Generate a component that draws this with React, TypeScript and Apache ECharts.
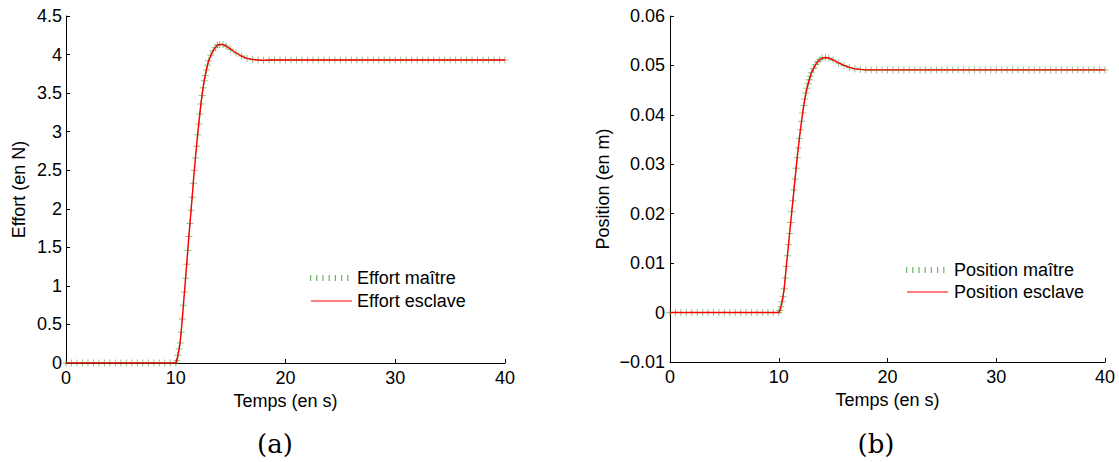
import { useEffect, useRef } from 'react';
import * as echarts from 'echarts';

// Sample times (s)
const time = [
  0, 0.5, 1, 1.5, 2, 2.5, 3, 3.5, 4, 4.5, 5, 5.5, 6, 6.5, 7, 7.5, 8, 8.5, 9, 9.5, 10,
  10.1, 10.2, 10.3, 10.4, 10.5, 10.6, 10.7, 10.8, 10.9, 11, 11.1, 11.2, 11.3, 11.4, 11.5,
  11.6, 11.7, 11.8, 11.9, 12, 12.1, 12.2, 12.3, 12.4, 12.5, 12.6, 12.7, 12.8, 12.9, 13,
  13.2, 13.4, 13.6, 13.8, 14, 14.3, 14.6, 15, 15.5, 16, 16.5, 17, 17.5, 18,
  18.5, 19, 19.5, 20, 20.5, 21, 21.5, 22, 22.5, 23, 23.5, 24, 24.5, 25, 25.5, 26, 26.5,
  27, 27.5, 28, 28.5, 29, 29.5, 30, 30.5, 31, 31.5, 32, 32.5, 33, 33.5, 34, 34.5, 35,
  35.5, 36, 36.5, 37, 37.5, 38, 38.5, 39, 39.5, 40,
];

// Effort (N)
const effortMaitre = [
  0, 0, 0, 0, 0, 0, 0, 0, 0, 0, 0, 0, 0, 0, 0, 0, 0, 0, 0, 0, 0,
  0.03, 0.1, 0.18, 0.26, 0.4, 0.57, 0.75, 0.92, 1.1, 1.28, 1.46, 1.64, 1.81, 1.98, 2.15,
  2.33, 2.5, 2.66, 2.81, 2.96, 3.1, 3.23, 3.36, 3.47, 3.57, 3.66, 3.73, 3.8, 3.86, 3.92,
  3.99, 4.05, 4.09, 4.12, 4.13, 4.13, 4.11, 4.07, 4.02, 3.98, 3.95, 3.935, 3.93, 3.925,
  3.93, 3.93, 3.93, 3.93, 3.93, 3.93, 3.93, 3.93, 3.93, 3.93, 3.93, 3.93, 3.93, 3.93, 3.93,
  3.93, 3.93, 3.93, 3.93, 3.93, 3.93, 3.93, 3.93, 3.93, 3.93, 3.93, 3.93, 3.93, 3.93, 3.93,
  3.93, 3.93, 3.93, 3.93, 3.93, 3.93, 3.93, 3.93, 3.93, 3.93, 3.93, 3.93, 3.93, 3.93,
];
const effortEsclave = [
  0, 0, 0, 0, 0, 0, 0, 0, 0, 0, 0, 0, 0, 0, 0, 0, 0, 0, 0, 0, 0,
  0.03, 0.1, 0.18, 0.27, 0.41, 0.58, 0.76, 0.93, 1.11, 1.29, 1.47, 1.65, 1.82, 1.99, 2.16,
  2.34, 2.51, 2.67, 2.82, 2.97, 3.11, 3.24, 3.37, 3.48, 3.58, 3.67, 3.74, 3.81, 3.87, 3.92,
  3.99, 4.05, 4.09, 4.12, 4.13, 4.13, 4.11, 4.07, 4.02, 3.98, 3.95, 3.935, 3.93, 3.925,
  3.93, 3.93, 3.93, 3.93, 3.93, 3.93, 3.93, 3.93, 3.93, 3.93, 3.93, 3.93, 3.93, 3.93, 3.93,
  3.93, 3.93, 3.93, 3.93, 3.93, 3.93, 3.93, 3.93, 3.93, 3.93, 3.93, 3.93, 3.93, 3.93, 3.93,
  3.93, 3.93, 3.93, 3.93, 3.93, 3.93, 3.93, 3.93, 3.93, 3.93, 3.93, 3.93, 3.93, 3.93,
];

// Position (m)
const positionMaitre = [
  0, 0, 0, 0, 0, 0, 0, 0, 0, 0, 0, 0, 0, 0, 0, 0, 0, 0, 0, 0, 0,
  0.0004, 0.0012, 0.0022, 0.0032, 0.0048, 0.007, 0.0093, 0.0115, 0.0137, 0.016, 0.0182,
  0.0204, 0.0226, 0.0248, 0.027, 0.0292, 0.0313, 0.0333, 0.0352, 0.037, 0.0387, 0.0404,
  0.0419, 0.0432, 0.0444, 0.0454, 0.0463, 0.0471, 0.0478, 0.0485,
  0.0494, 0.0502, 0.0508, 0.0512, 0.0515, 0.0516, 0.0515, 0.0511, 0.0505, 0.05, 0.0496,
  0.0493, 0.0492, 0.0491,
  0.0491, 0.0491, 0.0491, 0.0491, 0.0491, 0.0491, 0.0491, 0.0491, 0.0491, 0.0491, 0.0491,
  0.0491, 0.0491, 0.0491, 0.0491, 0.0491, 0.0491, 0.0491, 0.0491, 0.0491, 0.0491, 0.0491,
  0.0491, 0.0491, 0.0491, 0.0491, 0.0491, 0.0491, 0.0491, 0.0491, 0.0491, 0.0491, 0.0491,
  0.0491, 0.0491, 0.0491, 0.0491, 0.0491, 0.0491, 0.0491, 0.0491, 0.0491, 0.0491, 0.0491,
];
const positionEsclave = [
  0, 0, 0, 0, 0, 0, 0, 0, 0, 0, 0, 0, 0, 0, 0, 0, 0, 0, 0, 0, 0,
  0.0004, 0.0012, 0.0022, 0.0033, 0.0049, 0.0071, 0.0094, 0.0116, 0.0138, 0.0161, 0.0183,
  0.0205, 0.0227, 0.0249, 0.0271, 0.0293, 0.0314, 0.0334, 0.0353, 0.0371, 0.0388, 0.0404,
  0.0419, 0.0432, 0.0444, 0.0454, 0.0463, 0.0471, 0.0478, 0.0485,
  0.0494, 0.0502, 0.0508, 0.0512, 0.0515, 0.0516, 0.0515, 0.0511, 0.0505, 0.05, 0.0496,
  0.0493, 0.0492, 0.0491,
  0.0491, 0.0491, 0.0491, 0.0491, 0.0491, 0.0491, 0.0491, 0.0491, 0.0491, 0.0491, 0.0491,
  0.0491, 0.0491, 0.0491, 0.0491, 0.0491, 0.0491, 0.0491, 0.0491, 0.0491, 0.0491, 0.0491,
  0.0491, 0.0491, 0.0491, 0.0491, 0.0491, 0.0491, 0.0491, 0.0491, 0.0491, 0.0491, 0.0491,
  0.0491, 0.0491, 0.0491, 0.0491, 0.0491, 0.0491, 0.0491, 0.0491, 0.0491, 0.0491, 0.0491,
];

const FONT = '"Liberation Sans", Arial, Helvetica, sans-serif';
const SERIF = '"DejaVu Serif", "Liberation Serif", serif';
const FS = 18;
const PLUS = 'path://M3,0h1v7h-1z M0,3h7v1h-7z';

const zip = (xs: number[], ys: number[]) => xs.map((x, i) => [x, ys[i]]);

function axisBase() {
  return {
    axisLine: { show: true, onZero: false, lineStyle: { color: '#000', width: 1 } },
    axisTick: { show: true, inside: true, length: 4, lineStyle: { color: '#000', width: 1 } },
    axisLabel: { color: '#000', fontSize: FS, fontFamily: FONT },
    splitLine: { show: false },
    nameTextStyle: { color: '#000', fontSize: FS, fontFamily: FONT },
    nameLocation: 'middle' as const,
  };
}

function masterSeries(name: string, idx: number, data: number[][]) {
  return {
    name,
    type: 'line',
    xAxisIndex: idx,
    yAxisIndex: idx,
    data,
    symbol: PLUS,
    symbolSize: 7,
    showSymbol: true,
    itemStyle: { color: 'rgba(40,150,40,0.55)' },
    lineStyle: { color: 'rgba(40,150,40,0.6)', width: 1, type: 'dotted' },
    z: 2,
  };
}

function slaveSeries(name: string, idx: number, data: number[][]) {
  return {
    name,
    type: 'line',
    xAxisIndex: idx,
    yAxisIndex: idx,
    data,
    symbol: 'none',
    lineStyle: { color: '#ff0000', width: 1.4 },
    z: 3,
  };
}

function legendGraphic(y1: number, y2: number, t1: string, t2: string, lx: number, gx1: number, gx2: number, rx1: number, rx2: number) {
  return [
    {
      type: 'line',
      shape: { x1: gx1, y1, x2: gx2, y2: y1 },
      style: { stroke: 'rgba(40,150,40,0.7)', lineWidth: 6, lineDash: [1.2, 5] },
    },
    {
      type: 'text',
      x: lx,
      y: y1,
      style: { text: t1, font: `${FS}px ${FONT}`, fill: '#000', verticalAlign: 'middle', align: 'left' },
    },
    {
      type: 'line',
      shape: { x1: rx1, y1: y2, x2: rx2, y2 },
      style: { stroke: '#ff0000', lineWidth: 1 },
    },
    {
      type: 'text',
      x: lx,
      y: y2,
      style: { text: t2, font: `${FS}px ${FONT}`, fill: '#000', verticalAlign: 'middle', align: 'left' },
    },
  ].map((g) => ({ ...g, silent: true, z: 10 })) as any[];
}

export default function App() {
  const ref = useRef<HTMLDivElement>(null);

  useEffect(() => {
    document.body.style.margin = '0';
    if (!ref.current) return;
    const chart = echarts.init(ref.current, undefined, { renderer: 'svg' });

    const posFmt = (v: number) => {
      if (Math.abs(v) < 1e-9) return '0';
      return (v < 0 ? '\u2212' : '') + Math.abs(v).toFixed(2);
    };

    chart.setOption({
      animation: false,
      backgroundColor: '#ffffff',
      textStyle: { fontFamily: FONT },
      grid: [
        { left: 66, top: 16, width: 439, height: 347 },
        { left: 670, top: 16, width: 435, height: 346 },
      ],
      xAxis: [
        {
          ...axisBase(),
          gridIndex: 0,
          type: 'value',
          min: 0,
          max: 40,
          interval: 10,
          name: 'Temps (en s)',
          nameGap: 23,
          axisLabel: { ...axisBase().axisLabel, margin: 6 },
        },
        {
          ...axisBase(),
          gridIndex: 1,
          type: 'value',
          min: 0,
          max: 40,
          interval: 10,
          name: 'Temps (en s)',
          nameGap: 24,
          axisLabel: { ...axisBase().axisLabel, margin: 6 },
        },
      ],
      yAxis: [
        {
          ...axisBase(),
          gridIndex: 0,
          type: 'value',
          min: 0,
          max: 4.5,
          interval: 0.5,
          name: 'Effort (en N)',
          nameGap: 38,
          axisLabel: { ...axisBase().axisLabel, margin: 4 },
        },
        {
          ...axisBase(),
          gridIndex: 1,
          type: 'value',
          min: -0.01,
          max: 0.06,
          interval: 0.01,
          name: 'Position (en m)',
          nameGap: 58,
          axisLabel: { ...axisBase().axisLabel, margin: 5, formatter: posFmt },
        },
      ],
      series: [
        masterSeries('Effort maître', 0, zip(time, effortMaitre)),
        slaveSeries('Effort esclave', 0, zip(time, effortEsclave)),
        masterSeries('Position maître', 1, zip(time, positionMaitre)),
        slaveSeries('Position esclave', 1, zip(time, positionEsclave)),
      ],
      graphic: [
        ...legendGraphic(278, 301, 'Effort maître', 'Effort esclave', 357, 310, 350, 311, 352),
        ...legendGraphic(270, 292, 'Position maître', 'Position esclave', 954, 906, 945, 907, 948),
        {
          type: 'text',
          x: 275,
          y: 444,
          silent: true,
          style: { text: '(a)', font: `26px ${SERIF}`, fill: '#000', align: 'center', verticalAlign: 'middle' },
        },
        {
          type: 'text',
          x: 876,
          y: 444,
          silent: true,
          style: { text: '(b)', font: `26px ${SERIF}`, fill: '#000', align: 'center', verticalAlign: 'middle' },
        },
      ],
    });

    return () => {
      chart.dispose();
    };
  }, []);

  return <div ref={ref} style={{ width: 1119, height: 462 }} />;
}
